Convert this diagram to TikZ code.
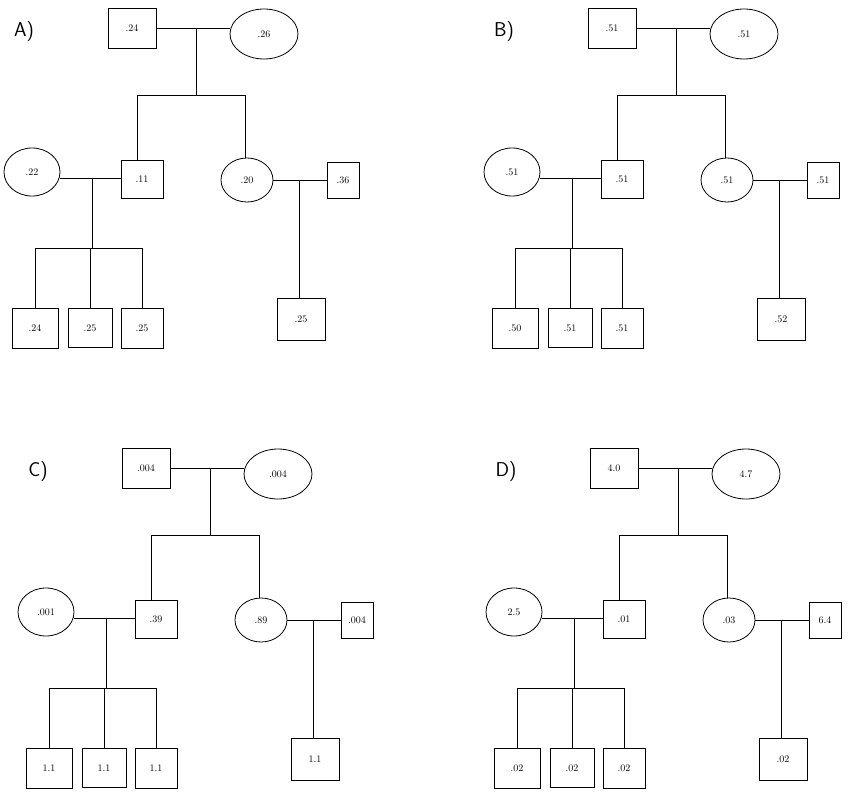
\documentclass[tikz,border=0pt]{standalone}
\usetikzlibrary{calc,shapes.geometric}
\tikzset{
  sq/.style={draw,rectangle,minimum width=44pt,minimum height=39pt,inner sep=0pt,font=\fontsize{10}{12}\selectfont},
  ov/.style={draw,ellipse,inner sep=0pt,font=\fontsize{10}{12}\selectfont},
}
\begin{document}
\begin{tikzpicture}[x=1pt,y=-1pt,line width=0.8pt]
\useasboundingbox (0,0) rectangle (867,800);
\foreach \lab/\ox/\oy/\vf/\vm/\vg/\vs/\vh/\vt/\ca/\cb/\cc/\cd in
  {A)/0/0/.24/.26/.22/.11/.20/.36/.24/.25/.25/.25,
   B)/480/0/.51/.51/.51/.51/.51/.51/.50/.51/.51/.52,
   C)/14/440/.004/.004/.001/.39/.89/.004/1.1/1.1/1.1/1.1,
   D)/482/440/4.0/4.7/2.5/.01/.03/6.4/.02/.02/.02/.02}{
\begin{scope}[shift={(\ox,\oy)}]
  \node[font=\fontsize{20}{22}\sffamily] (lab) at (24,32) {\lab};
  % parents
  \node[sq,minimum width=48pt,minimum height=40pt] (fa) at (132,28) {\vf};
  \node[ov,minimum width=68pt,minimum height=50pt] (mo) at (264,34) {\vm};
  \coordinate (j1) at (196,28);
  \coordinate (k1) at (196,95);
  \coordinate (sl) at (137,95);
  \coordinate (sr) at (245,95);
  \draw (fa.east) -- (fa.east -| mo.west);
  \draw (j1) -- (k1);
  \draw (sl) -- (sr);
  % second generation
  \node[ov,minimum width=56pt,minimum height=48pt] (gm) at (32,172) {\vg};
  \node[sq,minimum width=42pt,minimum height=38pt] (so) at (142,179) {\vs};
  \node[ov,minimum width=52pt,minimum height=44pt] (wi) at (247,180) {\vh};
  \node[sq,minimum width=32pt,minimum height=36pt] (hu) at (343,180) {\vt};
  \draw (sl) -- (sl |- so.north);
  \draw (sr) -- (sr |- wi.north);
  \draw (gm.east |- 0,178) -- (so.west |- 0,178);
  \draw (wi.east) -- (hu.west);
  % grandchildren
  \node[sq,minimum width=46pt,minimum height=40pt] (ga) at (35,328) {\ca};
  \node[sq] (gb) at (90,328) {\cb};
  \node[sq,minimum width=42pt,minimum height=40pt] (gc) at (142,328) {\cc};
  \node[sq,minimum width=48pt,minimum height=42pt] (gd) at (301,319) {\cd};
  \coordinate (j2) at (92,178);
  \coordinate (k2) at (92,248);
  \draw (j2) -- (k2);
  \draw (ga.north |- k2) -- (gc.north |- k2);
  \draw (ga.north |- k2) -- (ga.north);
  \draw (gb.north |- k2) -- (gb.north);
  \draw (gc.north |- k2) -- (gc.north);
  \coordinate (j3) at (299,180);
  \draw (j3) -- (j3 |- gd.north);
\end{scope}}
\end{tikzpicture}
\end{document}
